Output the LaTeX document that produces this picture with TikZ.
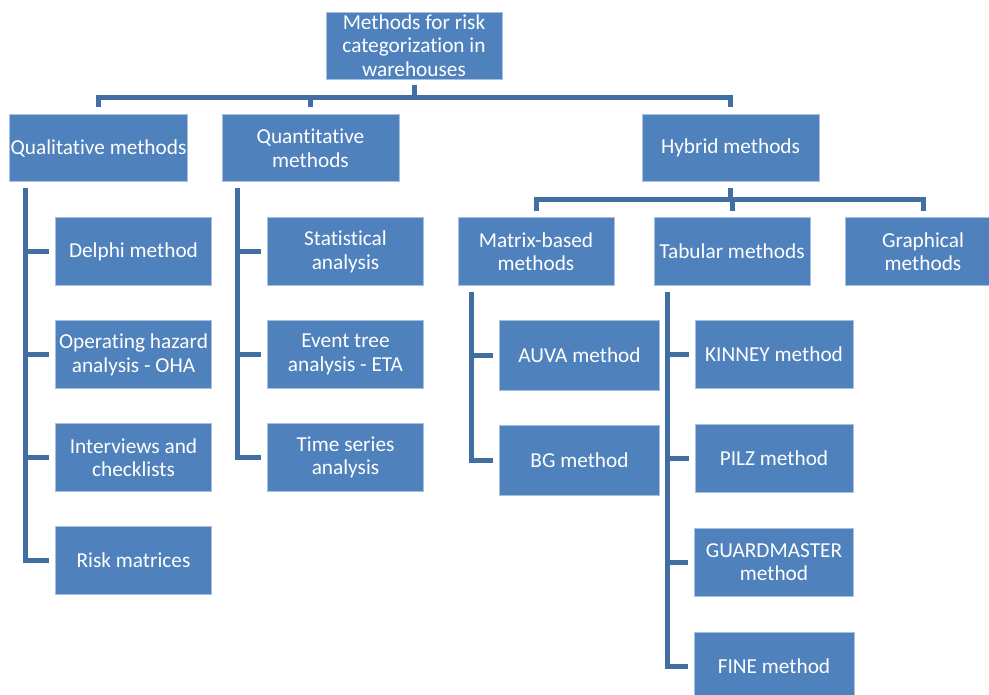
\documentclass[tikz,border=0pt]{standalone}
\usepackage{fontspec}
\setmainfont{Carlito}[Ligatures=NoCommon]
\usetikzlibrary{positioning}

\definecolor{boxblue}{HTML}{4F81BD}
\definecolor{boxedge}{HTML}{A8C0DF}
\definecolor{linkblue}{HTML}{416EA3}

\begin{document}
\begin{tikzpicture}[
    node distance=35pt,
    method box/.style={rectangle,fill=boxblue,draw=boxedge,line width=0.8pt,text=white,align=center,
        inner sep=1pt,minimum height=68pt,font=\fontsize{21.3}{23.5}\selectfont},
    top box/.style={method box,minimum width=177pt,minimum height=67pt},
    leaf box/.style={method box,minimum width=156pt},
    wide leaf/.style={method box,minimum width=160pt},
    link/.style={draw=linkblue,line width=5pt}
]
\useasboundingbox (0pt,0pt) rectangle (989pt,-695pt);

% Root
\node[method box,minimum width=176pt,minimum height=67pt] (root) at (414pt,-45.5pt) {Methods for risk\\categorization in\\warehouses};

% Main groups
\node[top box, below=35pt of root, xshift=-315.5pt] (qual) {Qualitative methods};
\node[top box, below=35pt of root, xshift=-103.5pt] (quant) {Quantitative\\methods};
\node[top box, below=35pt of root, xshift=316.5pt] (hybrid) {Hybrid methods};

% Qualitative
\node[leaf box, below=35pt of qual, xshift=35pt] (delphi) {Delphi method};
\node[leaf box, below of=delphi, node distance=103pt] (oha) {Operating hazard\\analysis - OHA};
\node[leaf box, below of=oha, node distance=103pt] (interviews) {Interviews and\\checklists};
\node[leaf box, below of=interviews, node distance=103pt] (riskmat) {Risk matrices};

% Quantitative
\node[leaf box, below=35pt of quant, xshift=35pt] (stat) {Statistical\\analysis};
\node[leaf box, below of=stat, node distance=103pt] (eta) {Event tree\\analysis - ETA};
\node[leaf box, below of=eta, node distance=103pt] (timeser) {Time series\\analysis};

% Hybrid
\node[leaf box, below=35pt of hybrid, xshift=-194.5pt] (matrix) {Matrix-based\\methods};
\node[leaf box, below=35pt of hybrid, xshift=1.5pt] (tabular) {Tabular methods};
\node[leaf box, below=35pt of hybrid, xshift=192.5pt] (graph) {Graphical\\methods};

% Matrix-based
\node[wide leaf, minimum height=70pt, below=34pt of matrix, xshift=43.5pt] (auva) {AUVA method};
\node[wide leaf, minimum height=70pt, below of=auva, node distance=105pt] (bg) {BG method};

% Tabular
\node[leaf box, minimum width=158pt, below=34pt of tabular, xshift=42pt] (kinney) {KINNEY method};
\node[leaf box, minimum width=158pt, below of=kinney, node distance=104pt] (pilz) {PILZ method};
\node[leaf box, minimum width=159pt, below of=pilz, node distance=104pt] (guard) {GUARDMASTER\\method};
\node[leaf box, minimum width=160pt, below of=guard, node distance=104pt] (fine) {FINE method};

% Top connectors
\draw[link] ([yshift=-6pt]root.south) -- ++(0,-12pt) -| ([yshift=7pt]qual.north);
\draw[link] ([yshift=-6pt]root.south) -- ++(0,-12pt) -| ([yshift=7pt]quant.north);
\draw[link] ([yshift=-6pt]root.south) -- ++(0,-12pt) -| ([yshift=7pt]hybrid.north);

\draw[link] ([yshift=-6pt]hybrid.south) -- ++(0,-11pt) -| ([yshift=6pt]matrix.north);
\draw[link] ([yshift=-6pt]hybrid.south) -- ++(0,-11pt) -| ([yshift=6pt]tabular.north);
\draw[link] ([yshift=-6pt]hybrid.south) -- ++(0,-11pt) -| ([yshift=6pt]graph.north);

% Side bars
\foreach \c in {delphi,oha,interviews,riskmat}
    \draw[link] ([xshift=16pt,yshift=-6pt]qual.south west) |- ([xshift=-6pt]\c.west);
\foreach \c in {stat,eta,timeser}
    \draw[link] ([xshift=16pt,yshift=-6pt]quant.south west) |- ([xshift=-6pt]\c.west);
\foreach \c in {auva,bg}
    \draw[link] ([xshift=13.5pt,yshift=-6pt]matrix.south west) |- ([xshift=-6pt]\c.west);
\foreach \c in {kinney,pilz,guard,fine}
    \draw[link] ([xshift=13.5pt,yshift=-6pt]tabular.south west) |- ([xshift=-6pt]\c.west);

\end{tikzpicture}
\end{document}
